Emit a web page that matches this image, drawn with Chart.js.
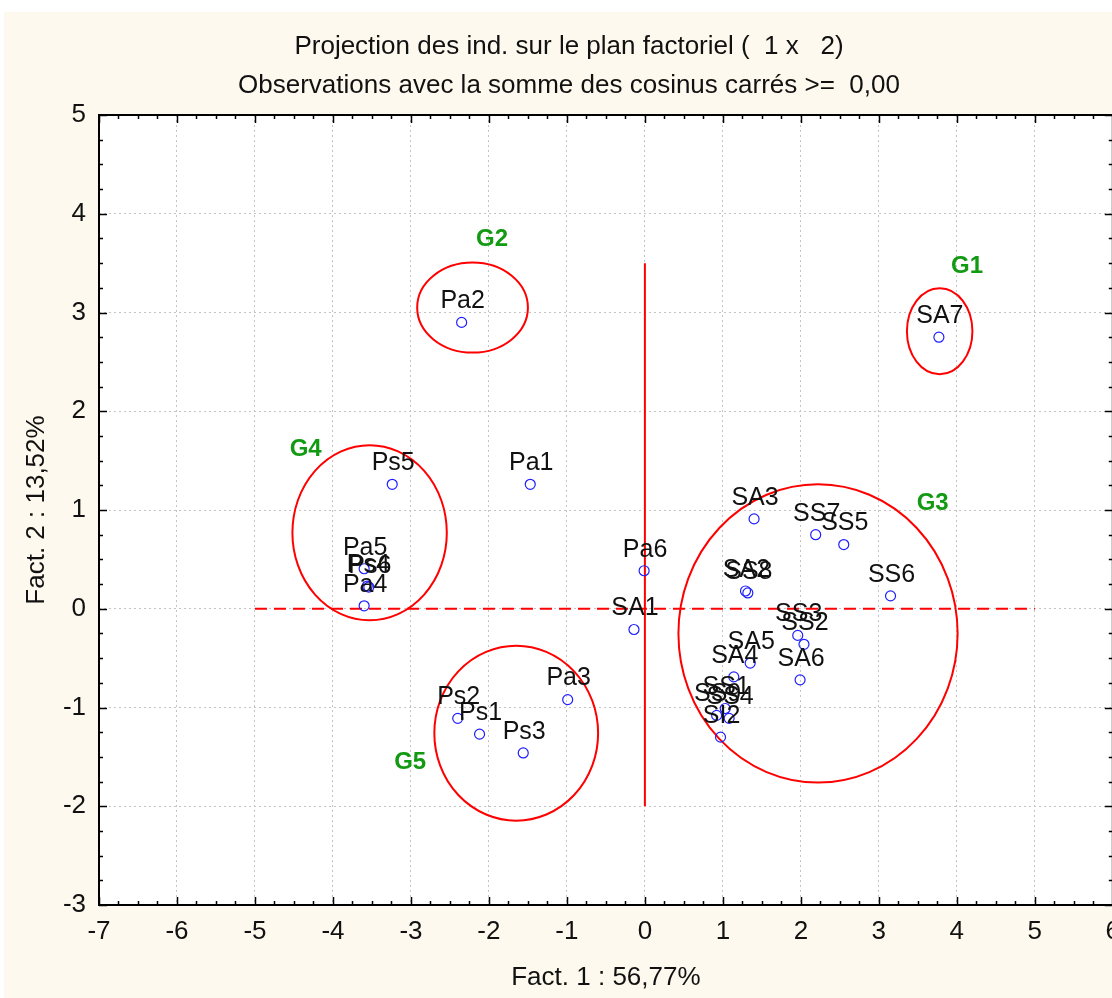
<!DOCTYPE html>
<html>
<head>
<meta charset="utf-8">
<script src="https://cdn.jsdelivr.net/npm/chart.js@4.4.0/dist/chart.umd.min.js"></script>
<style>
    html, body { margin: 0; padding: 0; background: #fff; overflow: hidden; }
    canvas { display: block; }
</style>
</head>
<body>
<canvas id="myChart" width="1119" height="998"></canvas>
<script>
// individus projetés sur le plan factoriel 1 x 2
const pointNames = ['SA7', 'Pa2', 'Ps5', 'Pa1', 'SA3', 'SS7', 'SS5', 'SS6', 'Pa6', 'SA1',
    'SA2', 'SS8', 'SS3', 'SS2', 'SA5', 'SA4', 'SA6', 'SS1', 'SS9', 'SS4', 'SI2',
    'Pa5', 'Ps4', 'Ps6', 'Pa4', 'Ps2', 'Ps1', 'Ps3', 'Pa3'];
const fact1 = [3.77, -2.35, -3.24, -1.47, 1.40, 2.19, 2.55, 3.15, -0.01, -0.14,
    1.29, 1.32, 1.96, 2.04, 1.35, 1.14, 1.99, 1.03, 0.92, 1.08, 0.97,
    -3.60, -3.56, -3.54, -3.60, -2.40, -2.12, -1.56, -0.99];
const fact2 = [2.75, 2.90, 1.26, 1.26, 0.91, 0.75, 0.65, 0.13, 0.385, -0.21,
    0.18, 0.16, -0.27, -0.36, -0.55, -0.69, -0.72, -1.01, -1.08, -1.11, -1.30,
    0.405, 0.23, 0.22, 0.03, -1.11, -1.27, -1.46, -0.92];

// groupes (ellipses)
const groupNames = ['G1', 'G2', 'G3', 'G4', 'G5'];
const groupLabelX = [4.13, -1.96, 3.69, -4.35, -3.01];
const groupLabelY = [3.47, 3.74, 1.07, 1.61, -1.56];
const ellipseCx = [3.78, -2.21, 2.22, -3.53, -1.65];
const ellipseCy = [2.81, 3.05, -0.25, 0.77, -1.26];
const ellipseRx = [0.42, 0.71, 1.79, 0.99, 1.05];
const ellipseRy = [0.435, 0.456, 1.51, 0.886, 0.886];

// axes rouges
const vLineX = 0, vLineY = [3.5, -2];
const hLineY = 0, hLineX = [-5, 5];

const xMin = -7, xMax = 6, yMin = -3, yMax = 5;

const FONT = "'Liberation Sans', Arial, sans-serif";

const scatterData = pointNames.map((n, i) => ({ x: fact1[i], y: fact2[i] }));

const decor = {
    id: 'decor',
    beforeDraw(chart) {
        const { ctx, chartArea: a } = chart;
        ctx.save();
        ctx.fillStyle = '#fdf9ee';
        ctx.fillRect(4, 12, chart.width, chart.height);
        ctx.fillStyle = '#ffffff';
        ctx.fillRect(a.left, a.top, a.right - a.left, a.bottom - a.top);
        ctx.restore();
    },
    beforeDatasetsDraw(chart) {
        const { ctx, scales: { x, y } } = chart;
        ctx.save();
        ctx.strokeStyle = '#ff0000';
        ctx.lineWidth = 2;
        // ellipses
        for (let i = 0; i < groupNames.length; i++) {
            const cx = x.getPixelForValue(ellipseCx[i]);
            const cy = y.getPixelForValue(ellipseCy[i]);
            const rx = x.getPixelForValue(ellipseCx[i] + ellipseRx[i]) - cx;
            const ry = cy - y.getPixelForValue(ellipseCy[i] + ellipseRy[i]);
            ctx.beginPath();
            ctx.ellipse(cx, cy, rx, ry, 0, 0, Math.PI * 2);
            ctx.stroke();
        }
        // vertical solid line
        ctx.beginPath();
        ctx.moveTo(x.getPixelForValue(vLineX), y.getPixelForValue(vLineY[0]));
        ctx.lineTo(x.getPixelForValue(vLineX), y.getPixelForValue(vLineY[1]));
        ctx.stroke();
        // horizontal dashed line
        ctx.setLineDash([12, 7]);
        ctx.beginPath();
        ctx.moveTo(x.getPixelForValue(hLineX[0]), y.getPixelForValue(hLineY));
        ctx.lineTo(x.getPixelForValue(hLineX[1]), y.getPixelForValue(hLineY));
        ctx.stroke();
        ctx.restore();
    },
    afterDatasetsDraw(chart) {
        const { ctx, scales: { x, y } } = chart;
        ctx.save();
        ctx.textAlign = 'center';
        ctx.textBaseline = 'middle';
        ctx.fillStyle = '#111';
        ctx.font = '25px ' + FONT;
        pointNames.forEach((n, i) => {
            ctx.fillText(n, x.getPixelForValue(fact1[i]) + 1, y.getPixelForValue(fact2[i]) - 21);
        });
        ctx.fillStyle = '#129a12';
        ctx.font = 'bold 24px ' + FONT;
        groupNames.forEach((g, i) => {
            ctx.fillText(g, x.getPixelForValue(groupLabelX[i]), y.getPixelForValue(groupLabelY[i]));
        });
        ctx.restore();
    },
    afterDraw(chart) {
        const { ctx, chartArea: a, scales: { x, y } } = chart;
        ctx.save();
        ctx.strokeStyle = '#000';
        ctx.lineWidth = 2;
        ctx.strokeRect(a.left, a.top, a.right - a.left, a.bottom - a.top);
        ctx.lineWidth = 1.5;
        ctx.beginPath();
        for (let v = xMin; v <= xMax + 0.001; v += 0.25) {
            const px = Math.round(x.getPixelForValue(v)) + 0.5;
            const len = Math.abs(v - Math.round(v)) < 0.01 ? 8 : 4;
            ctx.moveTo(px, a.bottom); ctx.lineTo(px, a.bottom - len);
            ctx.moveTo(px, a.top); ctx.lineTo(px, a.top + len);
        }
        for (let v = yMin; v <= yMax + 0.001; v += 0.25) {
            const py = Math.round(y.getPixelForValue(v)) + 0.5;
            const len = Math.abs(v - Math.round(v)) < 0.01 ? 8 : 4;
            ctx.moveTo(a.left, py); ctx.lineTo(a.left + len, py);
            ctx.moveTo(a.right, py); ctx.lineTo(a.right - len, py);
        }
        ctx.stroke();
        ctx.restore();
    }
};

const ctx = document.getElementById('myChart').getContext('2d');
const myChart = new Chart(ctx, {
    type: 'scatter',
    data: {
        datasets: [{
            label: 'individus',
            data: scatterData,
            pointRadius: 5,
            pointHoverRadius: 5,
            pointBorderWidth: 1.2,
            borderColor: '#1f1fff',
            backgroundColor: 'rgba(255,255,255,0)'
        }]
    },
    options: {
        responsive: false,
        animation: false,
        events: [],
        layout: { padding: { left: 24, right: 5, top: 0, bottom: 0 } },
        plugins: {
            legend: { display: false },
            tooltip: { enabled: false },
            title: {
                display: true,
                text: ['Projection des ind. sur le plan factoriel (  1 x   2)',
                       'Observations avec la somme des cosinus carrés >=  0,00'],
                color: '#111',
                font: { family: FONT, size: 26, weight: 'normal', lineHeight: 1.5 },
                padding: { top: 27.5, bottom: 9.5 }
            }
        },
        scales: {
            x: {
                type: 'linear',
                min: xMin, max: xMax,
                afterFit(s) { s.height = 93; s.paddingLeft = 0; s.paddingRight = 0; },
                ticks: { stepSize: 1, color: '#111', padding: 11, font: { family: FONT, size: 26 } },
                grid: { color: '#c4c4c4', lineWidth: 1, drawTicks: false },
                border: { display: false, dash: [2, 3] },
                title: {
                    display: true, text: 'Fact. 1 : 56,77%', color: '#111',
                    font: { family: FONT, size: 26, lineHeight: 1 },
                    padding: { top: 0, bottom: 7 }
                }
            },
            y: {
                type: 'linear',
                min: yMin, max: yMax,
                afterFit(s) { s.width = 75; s.paddingTop = 0; s.paddingBottom = 0; },
                ticks: { stepSize: 1, color: '#111', padding: 13, font: { family: FONT, size: 26 } },
                grid: { color: '#c4c4c4', lineWidth: 1, drawTicks: false },
                border: { display: false, dash: [2, 3] },
                title: {
                    display: true, text: 'Fact. 2 : 13,52%', color: '#111',
                    font: { family: FONT, size: 26, lineHeight: 1 },
                    padding: { top: 0, bottom: 0 }
                }
            }
        }
    },
    plugins: [decor]
});
</script>
</body>
</html>
